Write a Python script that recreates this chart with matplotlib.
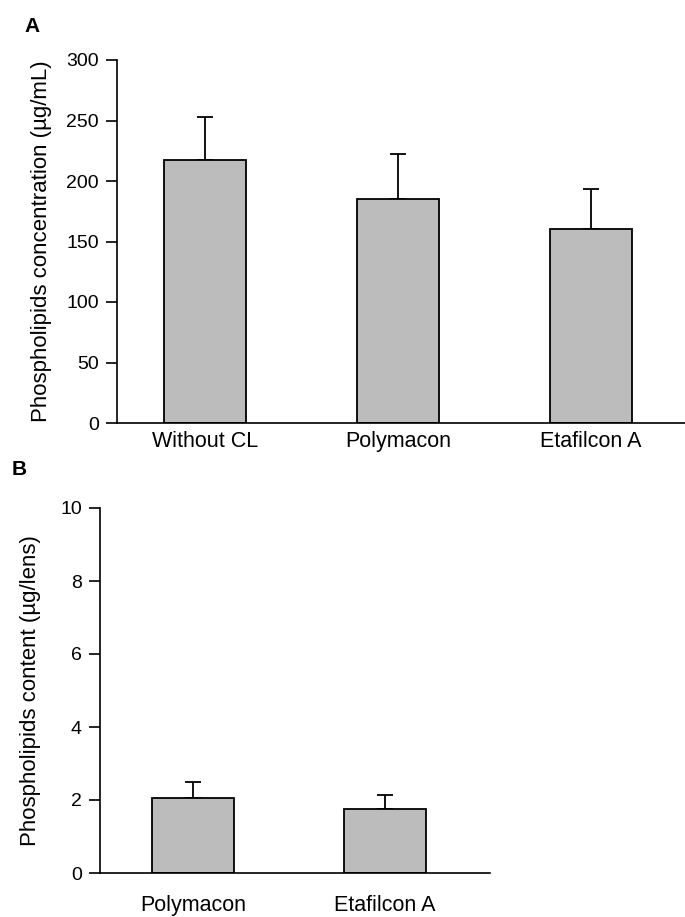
import matplotlib
matplotlib.use("Agg")
import matplotlib.pyplot as plt

plt.rcParams['font.family'] = ['Liberation Sans', 'DejaVu Sans']

# Panel A data
cats_a = ["Without CL", "Polymacon", "Etafilcon A"]
vals_a = [217, 185, 160]
err_a = [36, 37, 33]
yticks_a = [0, 50, 100, 150, 200, 250, 300]

# Panel B data
cats_b = ["Polymacon", "Etafilcon A"]
vals_b = [2.05, 1.75]
err_b = [0.43, 0.38]
yticks_b = [0, 2, 4, 6, 8, 10]

bar_color = "#bcbcbc"

fig = plt.figure(figsize=(6.85, 9.17), dpi=100)

def style(ax):
    for s in ["top", "right"]:
        ax.spines[s].set_visible(False)
    for s in ["left", "bottom"]:
        ax.spines[s].set_linewidth(1.2)
    ax.tick_params(axis="y", direction="out", length=8, width=1.2, labelsize=14, pad=5)
    ax.tick_params(axis="x", length=0, labelsize=15.5, pad=6)

# Panel A
axA = fig.add_axes([117/685, 1-423/917, 568/685, 363/917])
xa = list(range(len(cats_a)))
axA.bar(xa, vals_a, width=0.42, color=bar_color, edgecolor="black", linewidth=1.3, zorder=2)
axA.errorbar(xa, vals_a, yerr=[[0]*len(err_a), err_a], fmt="none", ecolor="black",
             elinewidth=1.3, capsize=6, capthick=1.3, zorder=1)
axA.set_ylim(0, 300)
axA.set_xlim(-0.456, 2.487)
axA.set_yticks(yticks_a)
axA.set_xticks(xa)
axA.set_xticklabels(cats_a)
axA.set_ylabel("Phospholipids concentration (µg/mL)", fontsize=16, labelpad=10)
style(axA)
fig.text(24/685, 1-26/917, "A", fontsize=15, fontweight="bold", va="center", ha="left")

# Panel B
axB = fig.add_axes([100/685, 1-873/917, 390/685, 365/917])
xb = list(range(len(cats_b)))
axB.bar(xb, vals_b, width=0.43, color=bar_color, edgecolor="black", linewidth=1.3, zorder=2)
axB.errorbar(xb, vals_b, yerr=[[0]*len(err_b), err_b], fmt="none", ecolor="black",
             elinewidth=1.3, capsize=6, capthick=1.3, zorder=1)
axB.set_ylim(0, 10)
axB.set_xlim(-0.484, 1.547)
axB.set_yticks(yticks_b)
axB.set_xticks(xb)
axB.set_xticklabels(cats_b)
axB.set_ylabel("Phospholipids content (µg/lens)", fontsize=16, labelpad=14)
style(axB)
axB.tick_params(axis="x", pad=16)
fig.text(12/685, 1-470/917, "B", fontsize=15, fontweight="bold", va="center", ha="left")

fig.savefig("out.png", dpi=100)
